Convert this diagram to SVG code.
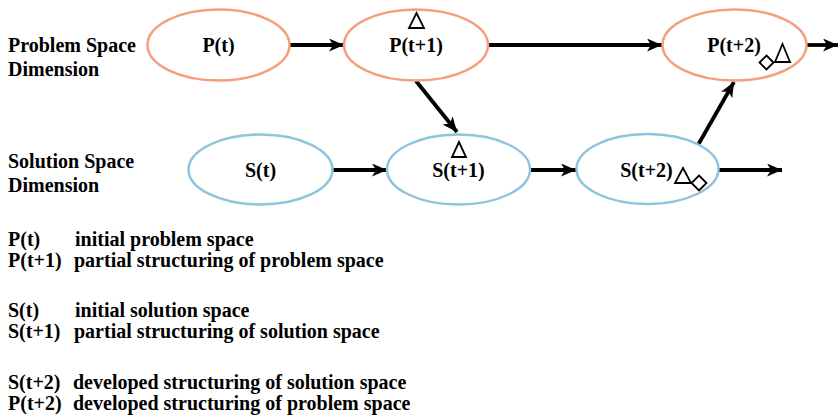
<svg xmlns="http://www.w3.org/2000/svg" width="838" height="420" viewBox="0 0 838 420" font-family="'Liberation Serif', 'DejaVu Serif', serif" font-weight="700" font-size="20">
  <style>
    text { font-family: "Liberation Serif", "DejaVu Serif", serif; font-weight: 700; font-size: 20px; fill: #000; }
    .mid { text-anchor: middle; }
    .prob { fill: #fff; stroke: #F4A07C; stroke-width: 2.5; }
    .sol { fill: #fff; stroke: #8EC4DE; stroke-width: 2.5; }
    .edge { stroke: #000; stroke-width: 3.8; fill: none; marker-end: url(#arrow); }
    .mark { fill: #fff; stroke: #000; stroke-width: 1.8; stroke-linejoin: miter; }
  </style>
  <defs>
    <marker id="arrow" markerUnits="userSpaceOnUse" markerWidth="16" markerHeight="14" refX="15" refY="6.5" orient="auto">
      <path d="M0,0 L15,6.5 L0,13 L4,6.5 Z" fill="#000"/>
    </marker>
  </defs>
  <rect width="838" height="420" fill="#fff"/>

  <!-- row labels -->
  <g id="row-labels">
    <text x="8" y="52">Problem Space</text>
    <text x="8" y="76">Dimension</text>
    <text x="8" y="168">Solution Space</text>
    <text x="8" y="192">Dimension</text>
  </g>

  <!-- connectors -->
  <g id="connectors">
    <line class="edge" x1="290" y1="45" x2="344" y2="45"/>
    <line class="edge" x1="488" y1="45" x2="662" y2="45"/>
    <line class="edge" x1="807" y1="45" x2="838" y2="45"/>
    <line class="edge" x1="416" y1="81" x2="457" y2="132"/>
    <line class="edge" x1="333" y1="170" x2="387" y2="170"/>
    <line class="edge" x1="530" y1="170" x2="576" y2="170"/>
    <line class="edge" x1="719" y1="170" x2="782" y2="170"/>
    <line class="edge" x1="698" y1="145" x2="734" y2="82"/>
  </g>

  <!-- problem space nodes -->
  <g id="P-t">
    <ellipse class="prob" cx="218.5" cy="45" rx="71" ry="35.5"/>
    <text class="mid" x="218.5" y="52">P(t)</text>
  </g>
  <g id="P-t1">
    <ellipse class="prob" cx="416" cy="45" rx="72" ry="35.5"/>
    <text class="mid" x="416" y="52">P(t+1)</text>
    <polygon class="mark" points="409,28 424,28 416.5,13"/>
  </g>
  <g id="P-t2">
    <ellipse class="prob" cx="734.5" cy="45" rx="72" ry="35.5"/>
    <text class="mid" x="734" y="52">P(t+2)</text>
    <polygon class="mark" points="766.5,55.5 773.5,62.5 766.5,69.5 759.5,62.5"/>
    <polygon class="mark" points="775,62 790,62 782.5,44"/>
  </g>

  <!-- solution space nodes -->
  <g id="S-t">
    <ellipse class="sol" cx="260.5" cy="169.5" rx="72" ry="35"/>
    <text class="mid" x="260.5" y="177">S(t)</text>
  </g>
  <g id="S-t1">
    <ellipse class="sol" cx="458.5" cy="169.5" rx="71.5" ry="35"/>
    <text class="mid" x="458.5" y="177">S(t+1)</text>
    <polygon class="mark" points="452,157 466,157 459,142"/>
  </g>
  <g id="S-t2">
    <ellipse class="sol" cx="647.5" cy="169" rx="71" ry="35"/>
    <text class="mid" x="646.5" y="177">S(t+2)</text>
    <polygon class="mark" points="675,183 691,183 683,168"/>
    <polygon class="mark" points="699,175.5 706.5,183 699,190.5 691.5,183"/>
  </g>

  <!-- legend -->
  <g id="legend">
    <text x="8" y="246">P(t)</text>
    <text x="75" y="246">initial problem space</text>
    <text x="8" y="267">P(t+1)</text>
    <text x="74" y="267">partial structuring of problem space</text>
    <text x="8" y="317">S(t)</text>
    <text x="75" y="317">initial solution space</text>
    <text x="8" y="338">S(t+1)</text>
    <text x="74" y="338">partial structuring of solution space</text>
    <text x="8" y="389">S(t+2)</text>
    <text x="73" y="389">developed structuring of solution space</text>
    <text x="8" y="410">P(t+2)</text>
    <text x="73" y="410">developed structuring of problem space</text>
  </g>
</svg>
